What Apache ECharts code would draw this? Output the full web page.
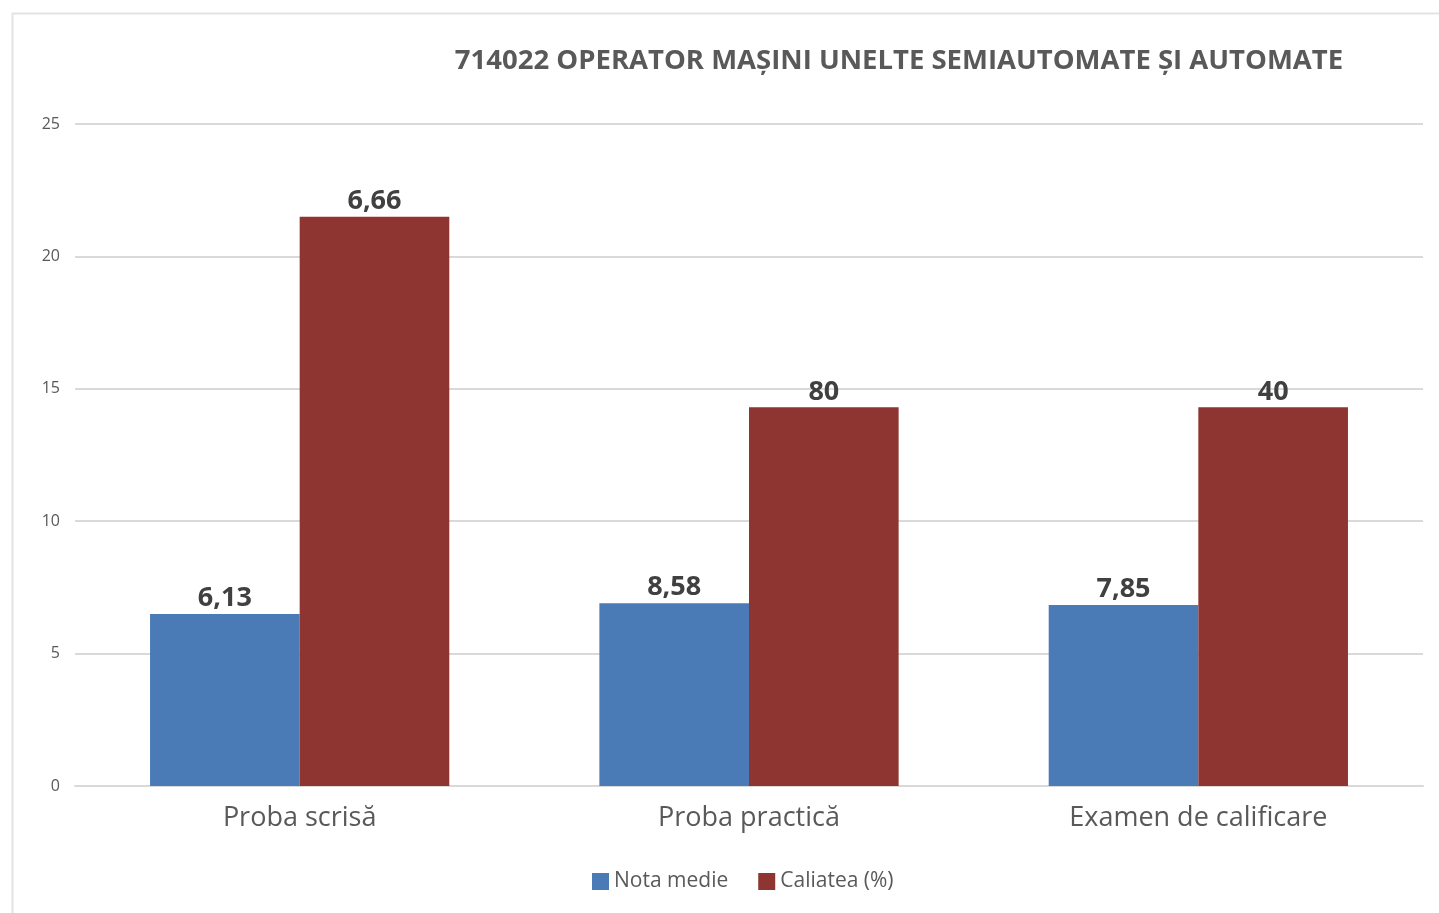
<!DOCTYPE html>
<html>
<head>
<meta charset="utf-8">
<script src="https://cdn.jsdelivr.net/npm/echarts@6/dist/echarts.min.js"></script>
<style>
html,body{margin:0;padding:0;background:#fff;}
#c{width:1439px;height:913px;}
</style>
</head>
<body>
<div id="c"></div>
<script>
const categories = ['Proba scrisă', 'Proba practică', 'Examen de calificare'];
const seriesNames = ['Nota medie', 'Caliatea (%)'];
const notaMedie = [6.5, 6.9, 6.84];
const calitate = [21.5, 14.3, 14.3];
const notaLabels = ['6,13', '8,58', '7,85'];
const calitateLabels = ['6,66', '80', '40'];
const yTicks = [0, 5, 10, 15, 20, 25];

const chart = echarts.init(document.getElementById('c'));
const labelStyle = (arr) => ({
  show: true, position: 'top', distance: 2,
  formatter: p => arr[p.dataIndex],
  fontFamily: 'Open Sans', fontWeight: 'bold', fontSize: 27, color: '#404040'
});
chart.setOption({
  animation: false,
  backgroundColor: '#fff',
  graphic: [{
    type: 'rect', shape: {x: 12.5, y: 13.5, width: 1440, height: 920},
    style: {fill: 'none', stroke: '#e3e3e3', lineWidth: 2}
  }],
  title: {
    text: '714022 OPERATOR MAȘINI UNELTE SEMIAUTOMATE ȘI AUTOMATE',
    left: 894, top: 42, textAlign: 'center',
    textStyle: {fontFamily: 'Open Sans', fontWeight: 'bold', fontSize: 27.5, color: '#595959'}
  },
  legend: {
    data: seriesNames, bottom: 16, left: 587,
    itemWidth: 17, itemHeight: 17, itemGap: 30, icon: 'rect',
    textStyle: {fontFamily: 'Open Sans', fontSize: 21, color: '#595959'}
  },
  grid: {left: 75, right: 16, top: 124, bottom: 127, containLabel: false},
  xAxis: {
    type: 'category', data: categories,
    axisLine: {lineStyle: {color: '#d9d9d9', width: 2}},
    axisTick: {show: false},
    axisLabel: {fontFamily: 'Open Sans', fontSize: 27, color: '#595959', margin: 19}
  },
  yAxis: {
    type: 'value', min: yTicks[0], max: yTicks[yTicks.length-1], interval: 5,
    axisLine: {show: false}, axisTick: {show: false},
    splitLine: {lineStyle: {color: '#d9d9d9', width: 2}},
    axisLabel: {fontFamily: 'Open Sans', fontSize: 16, color: '#595959', margin: 15}
  },
  series: [
    {name: seriesNames[0], type: 'bar', data: notaMedie, barGap: '0%', barCategoryGap: '33.4%',
     itemStyle: {color: '#4a7bb7'}, label: labelStyle(notaLabels)},
    {name: seriesNames[1], type: 'bar', data: calitate,
     itemStyle: {color: '#8e3531'}, label: labelStyle(calitateLabels)}
  ]
});
</script>
</body>
</html>
